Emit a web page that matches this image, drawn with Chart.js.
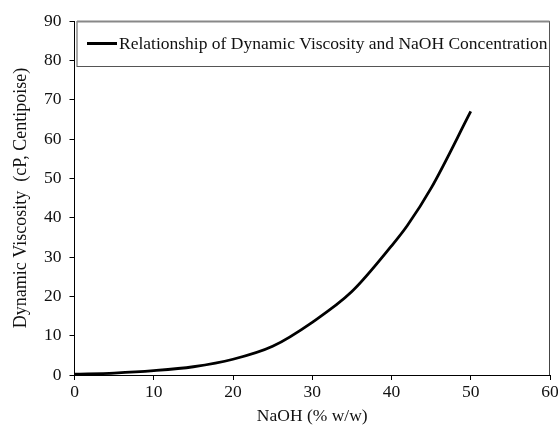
<!DOCTYPE html>
<html>
<head>
<meta charset="utf-8">
<script src="https://cdn.jsdelivr.net/npm/chart.js"></script>
<style>
  html, body { margin: 0; padding: 0; background: #fff; }
</style>
</head>
<body>
<canvas id="viscChart" width="558" height="426"></canvas>
<script>
// datos
const naohPct = [0, 5, 10, 15, 20, 25, 30, 35, 40, 42, 45, 50];
const viscosity = [0.2, 0.5, 1.1, 2.1, 4.0, 7.3, 13.4, 21.2, 32.8, 38.0, 47.5, 67.0];
const seriesLabel = 'Relationship of Dynamic Viscosity and NaOH Concentration';
const xTitle = 'NaOH (% w/w)';
const yTitle = 'Dynamic Viscosity  (cP, Centipoise)';

const SERIF = '"Liberation Serif", "Times New Roman", serif';
const FS = 17.5;

// caja de leyenda + borde derecho + titulo Y
const framePlugin = {
  id: 'frame',
  afterDraw(chart) {
    const { ctx, chartArea: ca } = chart;
    ctx.save();
    // borde derecho del area
    ctx.strokeStyle = '#444';
    ctx.lineWidth = 1;
    ctx.beginPath();
    ctx.moveTo(ca.right - 0.5, ca.top);
    ctx.lineTo(ca.right - 0.5, ca.bottom);
    ctx.stroke();

    // leyenda
    const bx = ca.left + 2.5, by = ca.top + 0.5, bw = ca.right - ca.left - 3, bh = 45;
    ctx.fillStyle = '#fff';
    ctx.fillRect(bx, by, bw, bh);
    ctx.strokeStyle = '#555';
    ctx.strokeRect(bx, by, bw, bh);
    ctx.strokeStyle = '#888';
    ctx.lineWidth = 2;
    ctx.beginPath();
    ctx.moveTo(bx, by);
    ctx.lineTo(bx + bw, by);
    ctx.stroke();

    const ly = by + 22;
    ctx.strokeStyle = '#000';
    ctx.lineWidth = 3;
    ctx.beginPath();
    ctx.moveTo(bx + 10, ly);
    ctx.lineTo(bx + 40, ly);
    ctx.stroke();
    ctx.fillStyle = '#111';
    ctx.font = FS + 'px ' + SERIF;
    ctx.textBaseline = 'middle';
    ctx.textAlign = 'left';
    ctx.fillText(chart.data.datasets[0].label, bx + 42, ly + 1);

    // titulo eje Y
    ctx.translate(21, (ca.top + ca.bottom) / 2);
    ctx.rotate(-Math.PI / 2);
    ctx.textAlign = 'center';
    ctx.font = '18px ' + SERIF;
    ctx.fillText(yTitle, 0, 0);
    ctx.restore();
  }
};

new Chart(document.getElementById('viscChart'), {
  type: 'line',
  data: {
    datasets: [{
      label: seriesLabel,
      data: naohPct.map((x, i) => ({ x, y: viscosity[i] })),
      borderColor: '#000',
      borderWidth: 2.8,
      pointRadius: 0,
      fill: false,
      cubicInterpolationMode: 'monotone'
    }]
  },
  options: {
    responsive: false,
    animation: false,
    layout: { padding: { top: 21, left: 36, right: 0, bottom: -1 } },
    plugins: {
      legend: { display: false },
      tooltip: { enabled: false }
    },
    scales: {
      x: {
        type: 'linear',
        min: 0, max: 60,
        afterFit(scale) { scale.paddingRight = 8; },
        ticks: { stepSize: 10, color: '#111', font: { family: SERIF, size: FS }, padding: 2 },
        grid: { drawOnChartArea: false, tickLength: 5, color: '#000' },
        border: { color: '#000', width: 1 },
        title: { display: true, text: xTitle, color: '#111', font: { family: SERIF, size: FS }, padding: { top: 1, bottom: 0 } }
      },
      y: {
        min: 0, max: 90,
        ticks: { stepSize: 10, color: '#111', font: { family: SERIF, size: FS }, padding: 8 },
        grid: { drawOnChartArea: false, tickLength: 5, color: '#000' },
        border: { color: '#000', width: 1 }
      }
    }
  },
  plugins: [framePlugin]
});
</script>
</body>
</html>
